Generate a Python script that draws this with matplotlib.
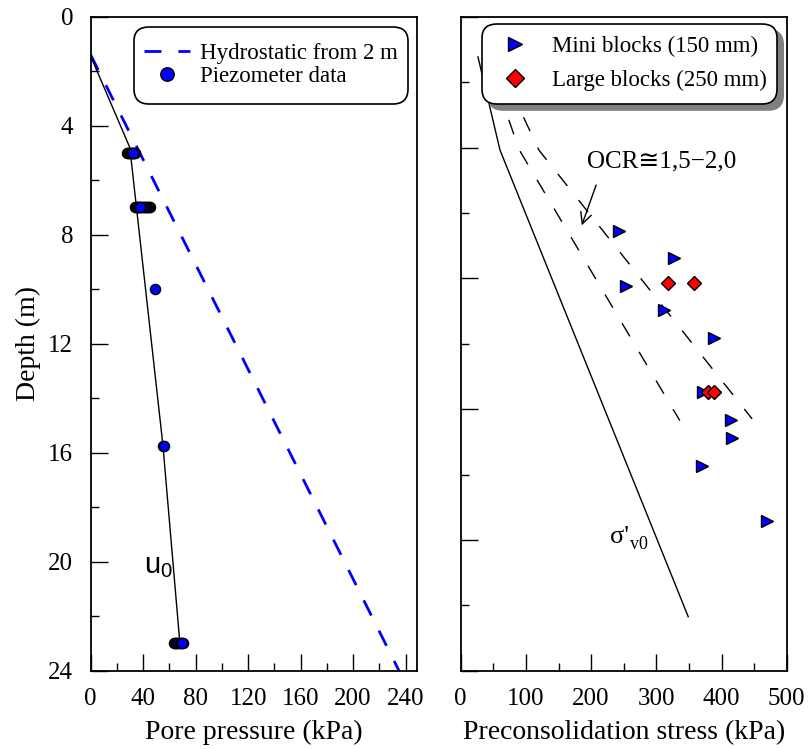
import numpy as np
import matplotlib
matplotlib.use('Agg')
import matplotlib.pyplot as plt
from matplotlib.ticker import MultipleLocator
from matplotlib.patches import BoxStyle

plt.rcParams['font.family'] = ['Liberation Serif', 'DejaVu Serif', 'DejaVu Sans']
plt.rcParams['mathtext.default'] = 'regular'

# ---- left panel data (pore pressure, kPa / depth, m)
hydro_depth = [1.4, 24.0]
hydro_u = [0.0, 235.0]

u0_depth = [1.45, 4.8, 15.7, 23.0]
u0_u = [0.0, 29.8, 55.0, 68.0]

# piezometer readings, grouped by tip depth (logger readings overlap)
piezo_5m = [27.3, 28.1, 28.9, 29.6, 30.4, 31.2, 33.7, 33.0, 32.4, 31.9]
piezo_7m = [33.7, 34.5, 35.3, 36.1, 36.9, 45.1, 44.3, 43.5, 42.7, 41.9,
            41.1, 40.3, 39.5, 38.7, 37.9, 37.5]
piezo_10m = [48.9]
piezo_16m = [55.2, 56.0]
piezo_23m = [63.7, 64.5, 65.3, 66.1, 66.9, 67.7, 68.5, 70.3, 69.5]
piezo_tip_depths = [5.0, 7.0, 10.0, 15.74, 23.0]

# ---- right panel data (preconsolidation stress, kPa / depth, m)
mini_stress = [243.3, 327.1, 253.5, 311.8, 389.0, 372.1, 414.6, 416.6, 369.6, 469.3]
mini_depth = [6.55, 7.39, 8.24, 8.97, 9.82, 11.49, 12.33, 12.89, 13.73, 15.42]

large_stress = [318.4, 358.3, 380.0, 389.0]
large_depth = [8.15, 8.15, 11.49, 11.49]

sv0_depth = [1.23, 4.08, 18.35]
sv0_stress = [26.5, 60.3, 349.0]

ocr15_depth = [1.23, 4.08, 12.35]
ocr15_stress = [40.0, 90.0, 336.0]
ocr20_depth = [1.23, 4.08, 12.3]
ocr20_stress = [53.0, 120.0, 447.0]

piezo_u = []
piezo_d = []
for dd, vals in zip(piezo_tip_depths, [piezo_5m, piezo_7m, piezo_10m, piezo_16m, piezo_23m]):
    piezo_u += vals
    piezo_d += [dd] * len(vals)


def tall_round(extra_y, rsize=0.65):
    # rounded legend box with some extra room above and below
    base = BoxStyle.Round(pad=0, rounding_size=rsize)
    def style(x0, y0, width, height, mutation_size):
        dy = extra_y * mutation_size
        return base(x0, y0 - dy, width, height + 2 * dy, mutation_size)
    return style


fig = plt.figure(figsize=(8.1, 7.49), dpi=100)
W, H = 810.0, 749.0
ax1 = fig.add_axes([90.7 / W, 1 - 670.7 / H, 326 / W, 654 / H])
ax2 = fig.add_axes([460.7 / W, 1 - 670.7 / H, 326 / W, 654 / H])

for ax in (ax1, ax2):
    for s in ax.spines.values():
        s.set_linewidth(1.3)
    ax.tick_params(which='both', direction='in', top=False, right=False,
                   width=1.0, labelsize=18, pad=12.5)
    ax.tick_params(which='major', length=12)
    ax.tick_params(which='minor', length=6)

# ---- left panel
ax1.plot(hydro_u, hydro_depth, color='blue', lw=2.0, linestyle=(0, (6.1, 6.1)),
         label='Hydrostatic from 2 m')
ax1.plot(u0_u, u0_depth, color='black', lw=1.0)
ax1.plot(piezo_u, piezo_d, linestyle='none', marker='o', ms=7.3, mfc='blue',
         mec='black', mew=1.0, label='Piezometer data')
ax1.text(41.0, 20.43, r'$u_0$', fontsize=21, family=['Liberation Sans', 'DejaVu Sans'],
         va='baseline', ha='left')

ax1.set_xlim(0, 248.5)
ax1.set_ylim(24, 0)
ax1.xaxis.set_major_locator(MultipleLocator(40))
ax1.xaxis.set_minor_locator(MultipleLocator(20))
ax1.yaxis.set_major_locator(MultipleLocator(4))
ax1.yaxis.set_minor_locator(MultipleLocator(2))
ax1.set_xlabel('Pore pressure (kPa)', fontsize=20, labelpad=7)
ax1.set_ylabel('Depth (m)', fontsize=20, labelpad=5)

leg1 = ax1.legend(loc='upper right', bbox_to_anchor=(0.973, 0.974), borderaxespad=0,
                  fontsize=16.5, handlelength=2.04, handletextpad=0.44,
                  labelspacing=0.08, borderpad=0.42, markerscale=1.33,
                  fancybox=True, framealpha=1, edgecolor='black')
leg1.get_frame().set_linewidth(1.2)
leg1.get_frame().set_boxstyle(tall_round(0.31))

# ---- right panel
ax2.plot(sv0_stress, sv0_depth, color='black', lw=1.0)
ax2.plot(ocr15_stress, ocr15_depth, color='black', lw=1.0, linestyle=(0, (11, 13)))
ax2.plot(ocr20_stress, ocr20_depth, color='black', lw=1.0, linestyle=(0, (11, 13)))
ax2.plot(mini_stress, mini_depth, linestyle='none', marker='>', ms=8.8, mfc='blue',
         mec='black', mew=1.0, label='Mini blocks (150 mm)')
ax2.plot(large_stress, large_depth, linestyle='none', marker='D', ms=7.4, mfc='red',
         mec='black', mew=1.0, label='Large blocks (250 mm)')

ax2.text(193.3, 4.44, 'OCR\u22451,5\u22122,0', fontsize=18, va='center', ha='left')
ax2.annotate('', xy=(185.7, 6.38), xytext=(207.7, 5.15),
             arrowprops=dict(arrowstyle='->', lw=1.0, color='black',
                             mutation_scale=20, shrinkA=0, shrinkB=0))
ax2.text(229, 16.1, "\u03c3'", fontsize=19, va='baseline', ha='left')
ax2.annotate('v0', xy=(229, 16.1), xytext=(14.5, -4.5), textcoords='offset points',
             fontsize=13, va='baseline', ha='left')

ax2.set_xlim(0, 500)
ax2.set_ylim(20, 0)
ax2.xaxis.set_major_locator(MultipleLocator(100))
ax2.xaxis.set_minor_locator(MultipleLocator(50))
ax2.yaxis.set_major_locator(MultipleLocator(4))
ax2.yaxis.set_minor_locator(MultipleLocator(2))
ax2.tick_params(axis='y', which='both', labelleft=False)
ax2.set_xlabel('Preconsolidation stress (kPa)', fontsize=20, labelpad=7)

leg2 = ax2.legend(loc='upper right', bbox_to_anchor=(0.970, 0.986), borderaxespad=0,
                  fontsize=16.5, handlelength=2.0, handletextpad=0.6,
                  labelspacing=0.55, borderpad=0.45, markerscale=1.2,
                  fancybox=True, framealpha=1, edgecolor='black',
                  shadow={'ox': 4.5, 'oy': -4.5, 'facecolor': '0.5',
                          'edgecolor': '0.5', 'alpha': 1.0})
leg2.get_frame().set_linewidth(1.2)
leg2.get_frame().set_boxstyle(tall_round(0.10))

fig.savefig('out.png', dpi=100)
